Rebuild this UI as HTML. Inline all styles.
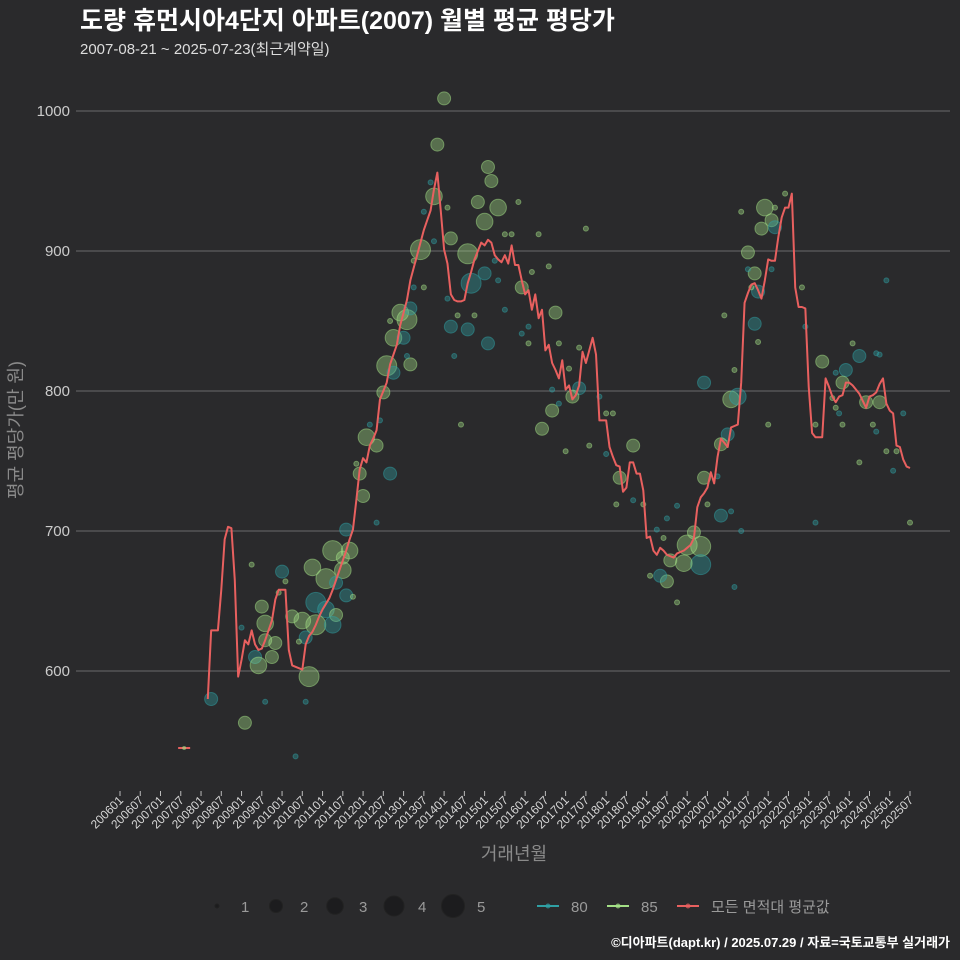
<!DOCTYPE html>
<html><head><meta charset="utf-8">
<style>
html,body{margin:0;padding:0;background:#2a2a2c;}
svg{display:block;font-family:"Liberation Sans","Noto Sans CJK KR",sans-serif;}
</style></head>
<body>
<svg id="chart" width="960" height="960" viewBox="0 0 960 960" xmlns="http://www.w3.org/2000/svg">
<rect width="960" height="960" fill="#2a2a2c"/>
<text x="80" y="29" font-size="25" font-weight="bold" fill="#ffffff">도량 휴먼시아4단지 아파트(2007) 월별 평균 평당가</text>
<text x="80" y="54" font-size="15" fill="#dddddd">2007-08-21 ~ 2025-07-23(최근계약일)</text>
<g id="grid"></g>
<g id="yaxis"></g>
<g id="xaxis"></g>
<g id="bubbles"></g>
<g id="line"></g>
<text transform="translate(22,430) rotate(-90)" text-anchor="middle" font-size="18" fill="#8a8a8a">평균 평당가(만 원)</text>
<text x="514" y="860" text-anchor="middle" font-size="18" fill="#8a8a8a">거래년월</text>
<g id="legend"></g>
<text x="950" y="947" text-anchor="end" font-size="13" font-weight="bold" fill="#ffffff">©디아파트(dapt.kr) / 2025.07.29 / 자료=국토교통부 실거래가</text>
</svg>
<script>
// months since 2006-01
const yTicks=[600,700,800,900,1000];
const xTickLabels=[];for(let y=2006;y<=2025;y++){xTickLabels.push(y+'01');xTickLabels.push(y+'07');}
const lineMonths=[19,26,27,29,30,31,32,33,34,35,36,37,38,39,40,41,42,43,45,46,47,49,50,51,52,53,54,55,56,57,58,59,60,61,62,63,64,65,66,67,68,69,70,71,72,73,74,75,76,77,78,79,80,81,82,83,84,85,86,87,88,89,90,91,92,93,94,95,96,97,98,99,100,101,102,103,104,105,106,107,108,109,110,111,112,113,114,115,116,117,118,119,120,121,122,123,124,125,126,127,128,129,130,131,132,133,134,135,136,137,138,139,140,141,142,143,144,145,146,147,148,149,150,151,152,153,154,155,156,157,158,159,160,161,162,163,164,165,166,167,168,169,170,171,172,173,174,175,176,177,178,179,180,181,182,183,184,185,186,187,188,189,190,191,192,193,194,195,196,197,198,199,200,201,202,203,204,205,206,207,208,209,210,211,212,213,214,215,216,217,219,220,221,222,223,224,225,226,227,228,229,230,231,232,233,234];
const lineValues=[545,580,629,629,658,694,703,702,665,596,608,622,619,629,619,615,616,622,636,651,658,658,615,604,603,602,601,619,625,628,633,639,644,648,652,658,665,672,679,686,694,701,722,744,752,749,761,766,772,794,800,806,819,826,833,847,856,865,879,888,897,906,915,922,929,944,956,929,901,891,869,865,864,864,865,877,885,894,900,906,904,908,906,897,894,892,897,891,904,890,890,879,869,872,858,869,852,858,829,833,820,815,809,822,801,804,794,797,804,828,820,829,838,826,779,779,779,760,753,747,746,728,731,749,749,741,741,729,695,696,686,683,688,686,683,682,681,684,685,686,688,690,695,717,724,727,731,742,734,753,766,763,760,774,775,776,806,863,870,876,877,872,866,879,894,893,893,910,924,931,931,941,874,860,860,859,803,770,767,767,767,809,803,796,792,796,797,806,806,804,798,793,788,796,797,799,805,809,791,786,784,761,760,751,746,745];
const bubbleMonths=[27,37,39,48,49,47,42,43,36,40,41,45,43,46,51,54,57,63,61,66,68,67,76,58,61,58,64,63,55,56,67,69,43,55,53,66,64,52,94,96,109,110,93,106,112,108,118,97,92,90,114,116,124,138,98,89,103,93,108,104,87,87,90,111,112,122,127,119,97,100,105,98,103,109,99,114,129,121,119,121,130,83,85,86,81,84,80,79,86,81,78,85,73,76,77,74,71,80,72,70,101,133,136,136,134,128,130,128,125,132,139,142,144,146,144,152,148,147,152,197,191,193,194,194,190,184,186,188,193,189,186,187,202,227,179,188,189,182,203,173,181,183,208,219,215,214,217,224,225,212,221,225,211,212,213,214,206,223,224,232,227,230,219,229,234,206,192,180,178,173,178,181,184,170,168,172,172,167,163,162,160,165,157,155,165,162,159,161,182,174,177];
const bubbleValues=[580,563,676,671,664,656,646,634,631,610,604,610,622,620,639,636,674,686,666,672,686,701,706,649,644,633,640,633,624,596,654,653,578,578,621,681,663,539,976,1009,960,950,939,935,931,921,935,931,949,928,912,912,912,916,909,901,898,907,884,877,893,874,874,893,879,885,889,874,866,854,854,846,844,834,825,858,856,846,841,834,834,856,851,859,838,838,850,818,819,813,799,825,767,761,779,776,741,741,725,748,776,816,831,802,796,801,791,786,773,757,761,796,784,784,755,761,738,719,722,941,931,922,931,917,916,928,899,884,887,871,887,874,874,879,854,848,835,815,846,806,794,796,821,825,815,806,834,827,826,813,792,792,795,788,784,776,776,776,771,784,757,757,749,743,706,706,776,769,762,738,711,714,700,699,690,689,676,677,679,664,668,649,668,719,718,709,701,695,660,719,739];
const bubbleCounts=[2,2,1,2,1,1,2,3,1,2,3,2,2,2,2,3,3,4,4,3,3,2,1,4,3,4,2,3,2,4,2,1,1,1,1,2,2,1,2,2,2,2,3,2,3,3,1,1,1,1,1,1,1,1,2,4,4,1,2,4,1,1,1,1,1,1,1,2,1,1,1,2,2,2,1,1,2,1,1,1,1,3,4,2,3,2,1,4,2,2,2,1,3,2,1,1,2,2,2,1,1,1,1,2,2,1,1,2,2,1,1,1,1,1,1,2,2,1,1,1,3,2,1,2,2,1,2,2,1,2,1,1,1,1,1,2,1,1,1,2,3,3,2,2,2,2,1,1,1,1,2,2,1,1,1,1,1,1,1,1,1,1,1,1,1,1,1,2,2,2,2,1,1,2,4,4,4,3,2,2,2,1,1,1,1,1,1,1,1,1,1];
const bubbleAreas=[80,85,85,80,85,85,85,85,80,80,85,85,85,85,85,85,85,85,85,85,85,80,80,80,80,85,85,80,80,85,80,85,80,80,85,85,80,80,85,85,85,85,85,85,85,85,85,85,80,80,85,85,85,85,85,85,85,80,80,80,85,80,85,80,80,85,85,85,80,85,85,80,80,80,80,80,85,80,80,85,85,85,85,80,85,80,85,85,85,80,85,80,85,85,80,80,85,80,85,85,85,85,85,80,85,80,80,85,85,85,85,80,85,85,80,85,85,85,80,85,85,85,85,80,85,85,85,85,80,80,80,85,85,80,85,80,85,85,80,80,85,80,85,80,80,85,85,80,80,80,85,85,85,85,80,85,85,85,80,80,85,85,85,80,85,80,85,80,85,85,80,80,80,85,85,85,80,85,85,85,80,85,85,85,80,80,80,85,80,85,80];

const NS='http://www.w3.org/2000/svg';
const X0=120, PXM=(910-120)/234, Y1000=111, PXV=1.4;
function xScale(m){return X0+m*PXM;}
function yScale(v){return Y1000+(1000-v)*PXV;}
function mk(tag,attrs,parent){const e=document.createElementNS(NS,tag);for(const k in attrs)e.setAttribute(k,attrs[k]);parent.appendChild(e);return e;}
const grid=document.getElementById('grid'),yax=document.getElementById('yaxis'),xax=document.getElementById('xaxis');
yTicks.forEach(v=>{
  const l=mk('line',{x1:76,x2:950,y1:yScale(v),y2:yScale(v),stroke:'#5e5e60','stroke-width':1.2},grid);
  
  
  const t=mk('text',{x:70,y:yScale(v)+5,'text-anchor':'end','font-size':15,fill:'#cccccc'},yax);
  
  
  t.textContent=v;
});
xTickLabels.forEach((lab,i)=>{
  const x=xScale(i*6);
  const tk=mk('line',{x1:x,x2:x,y1:791,y2:796,stroke:'#bbbbbb','stroke-width':1},xax);
  
  
  const t=mk('text',{transform:`translate(${x+4},${801}) rotate(-45)`,'text-anchor':'end','font-size':12,fill:'#d6d6d6'},xax);
  
  
  t.textContent=lab;
});
const rad={1:2.5,2:6.5,3:8.3,4:10,5:11.5};
const bg=document.getElementById('bubbles');
bubbleMonths.forEach((m,i)=>{
  const teal=bubbleAreas[i]===80;
  const col=teal?'#2fa0a4':'#a3df86';
  const c=mk('circle',{cx:xScale(m),cy:yScale(bubbleValues[i]),r:rad[bubbleCounts[i]],fill:col,'fill-opacity':0.38,stroke:col,'stroke-opacity':0.5,'stroke-width':1},bg);
  
  
});
const lg=document.getElementById('line');
let segs=[],cur=[];
lineMonths.forEach((m,i)=>{if(cur.length&&m-lineMonths[i-1]>2){segs.push(cur);cur=[];}cur.push([xScale(m),yScale(lineValues[i])]);});
segs.push(cur);
segs.forEach(s=>{
  if(s.length===1){
    const [x,y]=s[0];
    const l=mk('line',{x1:x-6,x2:x+6,y1:y,y2:y,stroke:'#e8605f','stroke-width':2},lg);
    
    
    const d=mk('circle',{cx:x,cy:y,r:2,fill:'#a3df86','fill-opacity':0.6},lg);
    
    
  } else {
    const p=mk('polyline',{points:s.map(q=>q.join(',')).join(' '),fill:'none',stroke:'#e8605f','stroke-width':2,'stroke-linejoin':'round'},lg);
    
    
  }
});
const leg=document.getElementById('legend');
const sizeLabels=[1,2,3,4,5];
sizeLabels.forEach((s,i)=>{
  const cx=217+i*59;
  const c=mk('circle',{cx:cx,cy:906,r:[2,6.5,8.3,10,11.5][i],fill:'#1c1c1e',stroke:'#222','stroke-width':1},leg);
  
  
  const t=mk('text',{x:cx+24,y:912,'font-size':15,fill:'#9a9a9a'},leg);
  
  
  t.textContent=s;
});
const lineLeg=[['80','#2fa0a4',537],['85','#a3df86',607],['모든 면적대 평균값','#e8605f',677]];
lineLeg.forEach(([lab,col,x])=>{
  const g=mk('g',{},leg);
  
  
  mk('line',{x1:x,x2:x+22,y1:906,y2:906,stroke:col,'stroke-width':2},g);
  mk('circle',{cx:x+11,cy:906,r:2.5,fill:col,'fill-opacity':0.7},g);
  const t=mk('text',{x:x+34,y:912,'font-size':15,fill:'#9a9a9a'},g);
  t.textContent=lab;
});
</script>
</body></html>
